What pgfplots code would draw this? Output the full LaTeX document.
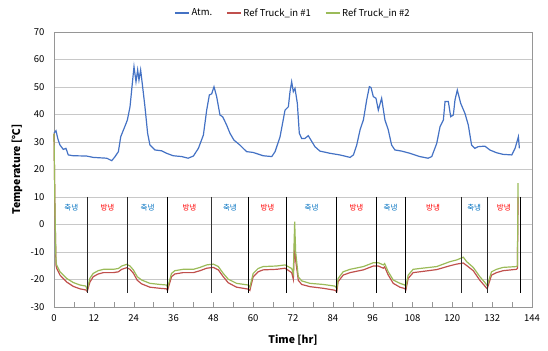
\documentclass[border=0pt]{standalone}
\usepackage{fontspec}
\setmainfont{Noto Sans CJK KR}
\usepackage{pgfplots}
\pgfplotsset{compat=1.18}
\definecolor{atm}{RGB}{68,114,196}
\definecolor{rone}{RGB}{192,80,77}
\definecolor{rtwo}{RGB}{155,187,89}
\definecolor{lblue}{RGB}{0,112,192}
\definecolor{lred}{RGB}{255,0,0}
\definecolor{gridc}{RGB}{200,200,200}
\definecolor{boxc}{RGB}{150,150,150}
\begin{document}
\begin{tikzpicture}
\begin{axis}[name=ax,
  scale only axis, width=478pt, height=275pt,
  xmin=0, xmax=144, ymin=-30, ymax=70,
  xtick={0,12,...,144}, minor xtick={6,18,...,138},
  xticklabels={0,12,24,36,48,60,72,84,96,108,120,132,144},
  ytick={-30,-20,...,70},
  yticklabels={-30,-20,-10,0,10,20,30,40,50,60,70},
  xtick pos=bottom, xtick align=inside,
  major tick length=5pt, minor tick length=5pt,
  y tick style={draw=none},
  x tick style={draw=boxc},
  ymajorgrids, grid style={gridc, line width=0.8pt},
  axis line style={draw=boxc, line width=0.8pt},
  tick label style={font=\fontsize{9.5}{11}\selectfont},
  xticklabel style={yshift=-4pt},
  yticklabel style={xshift=-6pt},
  xlabel={\textbf{Time [hr]}}, ylabel={\textbf{Temperature [℃]}},
  label style={font=\fontsize{10.5}{12}\selectfont},
  xlabel style={at={(axis description cs:0.5,-0.12)}, anchor=center},
  ylabel style={at={(axis description cs:-0.0774,0.5)}, anchor=center, rotate=0},
  legend style={at={(0.5,1.069)}, anchor=center, draw=none, fill=none,
    legend columns=-1, font=\fontsize{9.5}{11}\selectfont,
    /tikz/every even column/.append style={column sep=12pt}},
  legend image code/.code={\draw[#1] (0pt,0pt) -- (14pt,0pt);},
  clip=false,
]
\addplot[atm, line width=1.2pt] coordinates {
(0,33.2) (0.6,34.1) (1.2,31) (1.8,28.9) (2.8,27.3) (3.6,27.7) (4.3,25.3) (5.8,25.0) (9.8,24.9) (11.8,24.4) (15.9,24.1) (17.4,23.2) (18.4,24.7) (19.4,26.5) (20.1,31.9) (21.4,35.8) (22.1,38) (22.9,42.8) (23.4,48.9) (24.1,57.4) (24.7,51.9) (25.2,56.2) (25.6,52.5) (26.1,56.2) (26.7,50.1) (27.4,42.8) (28.2,33.2) (28.9,28.9) (30.4,27.1) (32.4,26.8) (33.9,25.9) (35.9,25.0) (38.5,24.7) (40.4,24.1) (42,24.9) (43.5,27.7) (45,32.5) (46,41.6) (46.8,47.1) (47.5,47.5) (48.2,50.1) (49,46.5) (50,39.8) (50.8,39.2) (52,36.2) (53,33.2) (54.2,30.7) (56,28.9) (58,26.5) (60,26.2) (63,25.0) (65.6,24.7) (66.6,26.5) (68.1,31.9) (69.6,41.6) (70.6,42.8) (71.1,48.3) (71.6,51.9) (72.1,48.3) (72.6,49.5) (73.3,44.1) (73.9,33.2) (74.6,31.3) (75.6,31.3) (76.6,32.3) (77.4,30.7) (78.6,28.3) (80.1,26.7) (83.1,25.9) (86.1,25.3) (89.2,24.4) (90.2,25.3) (91.2,28.9) (92.2,34.4) (93.2,38) (94.2,45.3) (95,50.1) (95.5,49.8) (96.2,46.5) (97,45.9) (97.7,41.6) (98.7,45.9) (99.7,38) (100.7,34.4) (101.7,28.9) (102.7,27.1) (104.7,26.7) (107.2,25.9) (110.2,24.7) (112.7,24.1) (113.8,24.7) (115.3,29.5) (116.3,35.6) (117.3,38.0) (117.8,44.7) (118.8,44.7) (119.5,39.2) (120.3,39.8) (120.8,45.3) (121.5,48.9) (122.5,44.1) (123.8,40.4) (124.8,36.2) (125.8,28.9) (126.8,27.7) (127.8,28.3) (129.8,28.5) (131.3,27.1) (133.3,26.1) (135.3,25.5) (137.9,25.3) (138.9,27.7) (139.9,31.9) (140.2,27.7)
};
\addlegendentry{Atm.}
\addplot[rone, line width=1.2pt] coordinates {
(0,33) (0.3,5) (0.6,-14.7) (0.8,-15.9) (1.8,-18.4) (3.8,-20.9) (5.8,-22.5) (7.8,-23.4) (9.6,-23.8) (10,-24.4) (10.8,-21) (11.8,-19) (13.3,-18) (14.9,-17.5) (17.9,-17.5) (19.4,-17.2) (20.4,-16.3) (21.9,-15.7) (22.9,-16.3) (23.9,-17.7) (25.1,-20.3) (26.4,-21.6) (28.9,-22.8) (31.9,-23.2) (33.9,-23.4) (34.2,-24) (35.4,-19) (36.4,-18) (38.9,-17.5) (42,-17.5) (44,-16.8) (46,-15.9) (48,-15.6) (49.5,-16.5) (51,-19) (52.5,-21.2) (55,-22.8) (58.5,-23.5) (59,-24) (60,-19) (61.5,-17.2) (63,-16.5) (67,-16.3) (69.6,-15.9) (71.6,-17.5) (72.1,-19.9) (72.5,-6) (72.8,-13) (73.6,-20.3) (74.6,-21.8) (77.1,-22.6) (81.1,-23.2) (84.6,-23.9) (85.2,-24.4) (85.6,-20.8) (87.1,-18.4) (89.2,-17.5) (93.2,-16.5) (96.2,-15.1) (97.7,-15.1) (99.2,-15.9) (99.6,-15.4) (100.7,-18.4) (102.2,-21.4) (104.2,-22.8) (105.7,-23.3) (106,-23.8) (106.7,-19.6) (108.2,-17.5) (110.2,-17.2) (115.3,-16.4) (119.3,-15) (121.3,-14.4) (123.3,-14) (124.3,-14.9) (126.3,-16.8) (128.3,-20.3) (129.8,-22.4) (130.5,-23.4) (131.8,-18.4) (133.3,-17.5) (135.3,-16.8) (139.3,-16.3) (139.6,-16) (139.8,10)
};
\addlegendentry{Ref Truck\_in \#1}
\addplot[rtwo, line width=1.2pt] coordinates {
(0,33) (0.3,5) (0.6,-13.5) (0.8,-14.7) (1.8,-17.2) (3.8,-19.6) (5.8,-21.1) (7.8,-22) (9.6,-22.4) (10,-23.8) (10.8,-19.6) (11.8,-17.8) (13.3,-16.8) (14.9,-16.3) (17.9,-16.3) (19.4,-16) (20.4,-15.1) (21.9,-14.5) (22.9,-15.1) (23.9,-16.5) (25.1,-19) (26.4,-20.2) (28.9,-21.4) (31.9,-21.8) (33.9,-22) (34.2,-23) (35.4,-17.8) (36.4,-16.8) (38.9,-16.3) (42,-16.3) (44,-15.6) (46,-14.7) (48,-14.4) (49.5,-15.3) (51,-17.8) (52.5,-19.9) (55,-21.4) (58.5,-22) (59,-22.8) (60,-17.8) (61.5,-16) (63,-15.3) (67,-15.1) (69.6,-14.7) (71.6,-16) (72.1,-17.8) (72.5,1) (72.8,-10) (73.6,-19) (74.6,-20.5) (77.1,-21.4) (81.1,-21.8) (84.6,-22.4) (85.2,-23.2) (85.6,-19.6) (87.1,-17.2) (89.2,-16.3) (93.2,-15.3) (96.2,-13.9) (97.7,-13.9) (99.2,-14.7) (99.6,-14.2) (100.7,-17.2) (102.2,-20.2) (104.2,-21.4) (105.7,-22) (106,-22.6) (106.7,-18.4) (108.2,-16.3) (110.2,-16) (115.3,-15.3) (119.3,-13.5) (121.3,-12.9) (123.3,-11.9) (124.3,-13.5) (126.3,-15.6) (128.3,-19) (129.8,-21.1) (130.5,-22.2) (131.8,-17.2) (133.3,-16.3) (135.3,-15.6) (139.3,-15.3) (139.6,-15) (139.8,15)
};
\addlegendentry{Ref Truck\_in \#2}
% separators
\addplot[black!85, line width=0.8pt, forget plot] coordinates {(10,10) (10,-25)};
\addplot[black!85, line width=0.8pt, forget plot] coordinates {(22.2,10) (22.2,-25)};
\addplot[black, line width=0.8pt, forget plot] coordinates {(34.2,10) (34.2,-25)};
\addplot[black!80, line width=0.8pt, forget plot] coordinates {(47.4,10) (47.4,-25)};
\addplot[black, line width=0.8pt, forget plot] coordinates {(58.7,10) (58.7,-25)};
\addplot[black, line width=0.8pt, forget plot] coordinates {(70,10) (70,-25)};
\addplot[black, line width=0.8pt, forget plot] coordinates {(85.2,10) (85.2,-25)};
\addplot[black, line width=0.8pt, forget plot] coordinates {(97,10) (97,-25)};
\addplot[black, line width=0.8pt, forget plot] coordinates {(105.8,10) (105.8,-25)};
\addplot[black!85, line width=0.8pt, forget plot] coordinates {(122.6,10) (122.6,-25)};
\addplot[black!85, line width=0.8pt, forget plot] coordinates {(130.7,10) (130.7,-25)};
\addplot[black, line width=0.8pt, forget plot] coordinates {(140.4,10) (140.4,-25)};
% phase labels
\begin{scope}[every node/.style={font=\fontsize{7.5}{9}\selectfont}]
\node[lblue] at (axis cs:5.2,6) {축냉};
\node[lred] at (axis cs:16.1,6) {방냉};
\node[lblue] at (axis cs:28.2,6) {축냉};
\node[lred] at (axis cs:40.8,6) {방냉};
\node[lblue] at (axis cs:53,6) {축냉};
\node[lred] at (axis cs:64.3,6) {방냉};
\node[lblue] at (axis cs:77.6,6) {축냉};
\node[lred] at (axis cs:91.1,6) {방냉};
\node[lblue] at (axis cs:101.4,6) {축냉};
\node[lred] at (axis cs:114.2,6) {방냉};
\node[lblue] at (axis cs:126.6,6) {축냉};
\node[lred] at (axis cs:135.5,6) {방냉};
\end{scope}
\end{axis}
\path ([shift={(-54pt,-44pt)}]ax.south west) rectangle ([shift={(16pt,32pt)}]ax.north east);
\end{tikzpicture}
\end{document}
